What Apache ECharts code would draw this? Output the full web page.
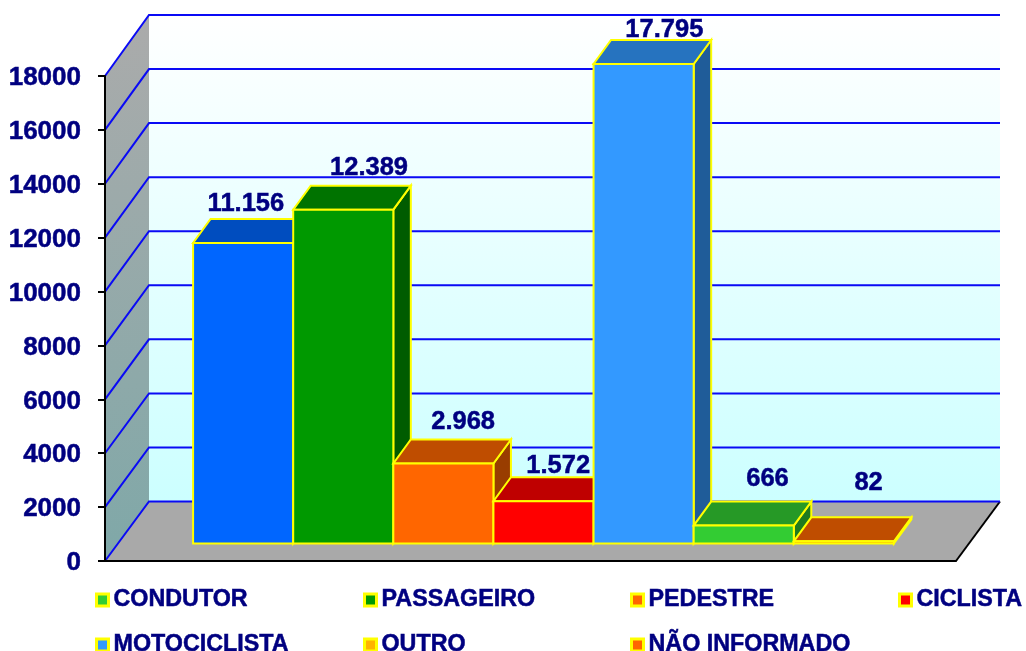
<!DOCTYPE html>
<html>
<head>
<meta charset="utf-8">
<style>html,body{margin:0;padding:0;background:#fff}#c{width:1026px;height:651px}</style>
<script src="https://cdn.jsdelivr.net/npm/echarts@6/dist/echarts.min.js"></script>
</head>
<body>
<div id="c"></div>
<script>
const categories = ['CONDUTOR','PASSAGEIRO','PEDESTRE','CICLISTA','MOTOCICLISTA','OUTRO','NÃO INFORMADO'];
const values = [11156, 12389, 2968, 1572, 17795, 666, 82];
const tickValues = [0,2000,4000,6000,8000,10000,12000,14000,16000,18000];

const frontColors = ['#0066FF','#009900','#FF6600','#FF0000','#3399FF','#33CC33','#FF6600'];
const topColors   = ['#004DBF','#007300','#BF4D00','#BF0000','#2673BF','#269926','#BF4D00'];
const sideColors  = ['#003D99','#005C00','#993D00','#990000','#1F5C99','#1F7A1F','#993D00'];
const legendColors = ['#33CC33','#009900','#FF6600','#FF0000','#3399FF','#FFB400','#FF6600'];

const legendLeft = [95,363,630,898,95,363,630];
const legendRow  = [0,0,0,0,1,1,1];
const labelNudgeX = [-6,17,11,6,12,15,16];
const labelNudgeY = [-15,-18,-18,-11,-10,-23,-34];

const NAVY = '#000080', YELLOW = '#FFFF00', FONT = '"Liberation Sans", Arial, sans-serif';
const LIFT = [13,-17.5], DEPTH = [17.5,-24];
const X_MIN = -1.25, X_MAX = 7.25, Y_MAX = 18000;
const shift = (p,d) => [p[0]+d[0], p[1]+d[1]];
const toWall = (p,v) => [p[0]+44, p[1]-59.5-1.5*v/Y_MAX];
const fmt = v => String(v).replace(/\B(?=(\d{3})+$)/g,'.');

function renderWalls(params, api){
  const a = api.coord([X_MIN,0]), b = api.coord([X_MAX,0]);
  const t = api.coord([X_MIN,Y_MAX]), tr = api.coord([X_MAX,Y_MAX]);
  const a2 = toWall(a,0), b2 = toWall(b,0), t2 = toWall(t,Y_MAX), tr2 = toWall(tr,Y_MAX);
  return {type:'group', children:[
    {type:'polygon', shape:{points:[a2,b2,tr2,t2]}, style:{fill:{type:'linear',x:0,y:0,x2:0,y2:1,colorStops:[{offset:0,color:'#FFFFFF'},{offset:1,color:'#CCFFFF'}]}}},
    {type:'polygon', shape:{points:[a,a2,t2,t]}, style:{fill:{type:'linear',x:0,y:0,x2:0.25,y2:1,colorStops:[{offset:0,color:'#ABABAB'},{offset:1,color:'#7FA8A8'}]}}},
    {type:'polygon', shape:{points:[a,b,b2,a2]}, style:{fill:'#A9A9A9'}},
    {type:'polyline', shape:{points:[b,b2]}, style:{stroke:'#000',lineWidth:2,fill:null}}
  ]};
}
function renderGrid(params, api){
  const v = api.value(0);
  const l = api.coord([X_MIN,v]), r = api.coord([X_MAX,v]);
  return {type:'polyline', shape:{points:[l,toWall(l,v),toWall(r,v)]},
    style:{stroke:'#0A0AF5',lineWidth:2,fill:null,lineJoin:'miter'}};
}
function renderBar(params, api){
  const w = api.size([1,0])[0];
  const base = shift(api.coord([api.value(0),0]),LIFT), top = shift(api.coord([api.value(0),api.value(1)]),LIFT);
  const x0 = base[0]-w/2, x1 = base[0]+w/2;
  const bl=[x0,base[1]], br=[x1,base[1]], tl=[x0,top[1]], tr=[x1,top[1]];
  const i = api.value(2);
  const st = f => ({fill:f,stroke:YELLOW,lineWidth:2,lineJoin:'miter'});
  return {type:'group', children:[
    {type:'polygon', shape:{points:[br,shift(br,DEPTH),shift(tr,DEPTH),tr]}, style:st(sideColors[i])},
    {type:'polygon', shape:{points:[tl,tr,shift(tr,DEPTH),shift(tl,DEPTH)]}, style:st(topColors[i])},
    {type:'polygon', shape:{points:[bl,br,tr,tl]}, style:st(frontColors[i])}
  ]};
}
function renderLabel(params, api){
  const i = params.dataIndex;
  const p = shift(shift(api.coord([api.value(0),api.value(1)]),LIFT),DEPTH);
  return {type:'text', x:p[0]-DEPTH[0]/2+labelNudgeX[i], y:p[1]+labelNudgeY[i],
    style:{text:fmt(api.value(1)),fill:NAVY,stroke:NAVY,lineWidth:0.5,font:'bold 25.5px '+FONT,align:'center',verticalAlign:'middle'}};
}

const series = [
  {type:'custom',name:'_walls',silent:true,z:1,renderItem:renderWalls,data:[[0]]},
  {type:'custom',name:'_grid',silent:true,z:2,renderItem:renderGrid,data:tickValues.map(v=>[v])}
];
categories.forEach((name,i)=>series.push({type:'custom',name,silent:true,z:3,renderItem:renderBar,data:[[i,values[i],i]]}));
series.push({type:'custom',name:'_labels',silent:true,z:6,renderItem:renderLabel,data:values.map((v,i)=>[i,v])});

const legends = categories.map((name,i)=>({
  left:legendLeft[i], top:legendRow[i]===0?586:631, padding:0, orient:'horizontal',
  itemWidth:12, itemHeight:12, selectedMode:false,
  textStyle:{color:NAVY,fontFamily:FONT,fontWeight:'bold',fontSize:23.3,lineHeight:28,textBorderColor:NAVY,textBorderWidth:0.5},
  data:[{name,icon:'rect',itemStyle:{color:legendColors[i],borderColor:YELLOW,borderWidth:3,opacity:1}}]
}));

const chart = echarts.init(document.getElementById('c'),null,{renderer:'canvas'});
chart.setOption({
  animation:false,
  backgroundColor:'#fff',
  legend:legends,
  grid:{left:105,top:76,width:851,height:485,containLabel:false},
  xAxis:{type:'value',min:X_MIN,max:X_MAX,z:5,axisLine:{show:true,onZero:false,lineStyle:{color:'#000',width:2}},axisTick:{show:false},axisLabel:{show:false},splitLine:{show:false}},
  yAxis:{type:'value',min:0,max:Y_MAX,interval:2000,z:5,
    axisLine:{show:true,onZero:false,lineStyle:{color:'#000',width:2}},
    axisTick:{show:true,length:7,lineStyle:{color:'#000',width:2}},
    axisLabel:{color:NAVY,fontFamily:FONT,fontWeight:'bold',fontSize:26,margin:24,verticalAlign:'top',lineHeight:4,textBorderColor:NAVY,textBorderWidth:0.5,formatter:v=>String(v)},
    splitLine:{show:false}},
  series
});
</script>
</body>
</html>
